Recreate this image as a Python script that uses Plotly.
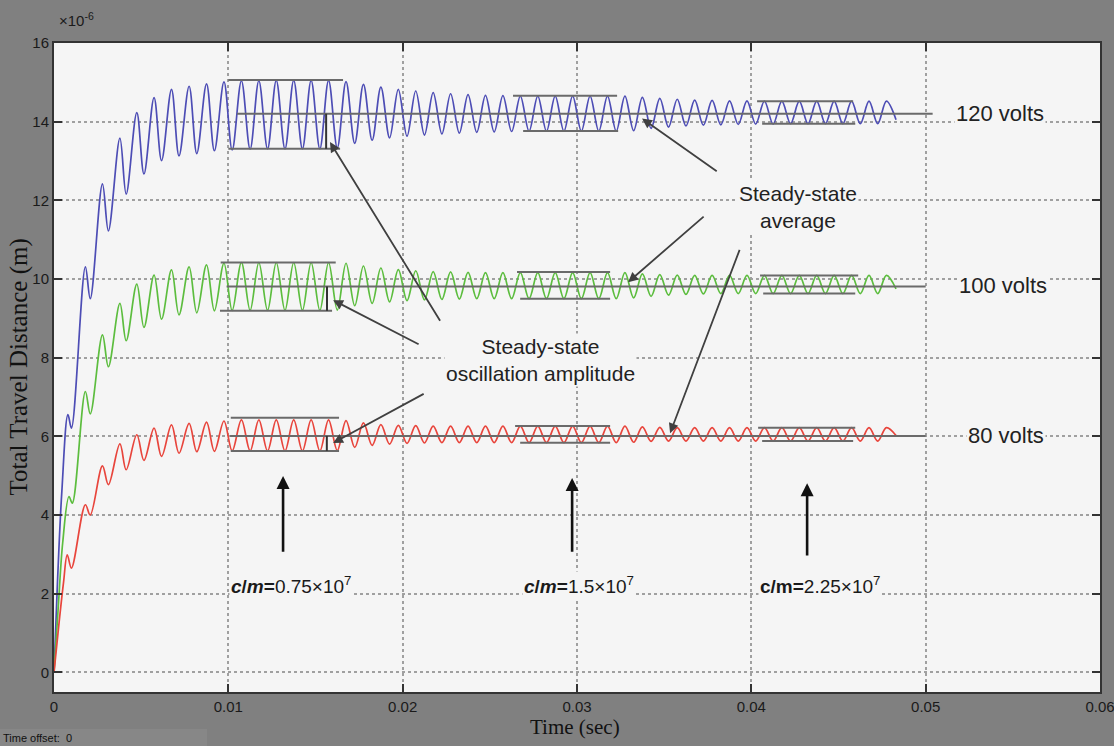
import plotly.graph_objects as go

# ---------------- data (times in ms, distances in 1e-6 m) ----------------
# shared times of the peaks / troughs of the oscillation
T_EXT_MS = [1.80, 2.08, 2.78, 3.12, 3.78, 4.14, 4.75, 5.16, 5.74, 6.17, 6.74, 7.17, 7.75, 8.19,
            8.75, 9.20, 9.75, 10.22,
            10.75, 11.25, 11.75, 12.25, 12.75, 13.25, 13.75, 14.25, 14.75, 15.25, 15.75, 16.25,
            16.75, 17.25, 17.75, 18.25, 18.75, 19.25, 19.75, 20.25, 20.75, 21.25, 21.75, 22.25,
            22.75, 23.25, 23.75, 24.25, 24.75, 25.25, 25.75, 26.25,
            26.75, 27.25, 27.75, 28.25, 28.75, 29.25, 29.75, 30.25, 30.75, 31.25, 31.75, 32.25, 32.75,
            33.25, 33.75, 34.25, 34.75, 35.25, 35.75, 36.25, 36.75, 37.25, 37.75, 38.25, 38.75, 39.25,
            39.75, 40.25, 40.75, 41.25, 41.75, 42.25, 42.75, 43.25, 43.75, 44.25, 44.75, 45.25, 45.75,
            46.25, 46.75, 47.25, 47.75,
            48.30]

# initial rise of each curve
T_START_120 = [0.0, 0.20, 0.45, 0.80, 1.00]
Y_START_120 = [0.0, 2.30, 4.60, 6.55, 6.21]
T_START_100 = [0.0, 0.25, 0.50, 0.86, 1.05]
Y_START_100 = [0.0, 1.70, 3.30, 4.47, 4.30]
T_START_80 = [0.0, 0.30, 0.55, 0.76, 1.00]
Y_START_80 = [0.0, 1.30, 2.30, 2.99, 2.65]

Y_EXT_120 = [10.31, 9.50, 12.42, 11.22, 13.58, 12.16, 14.23, 12.67, 14.61, 13.01, 14.82, 13.13,
             14.90, 13.19, 14.96, 13.26, 15.01, 13.28,
             15.04, 13.30, 15.04, 13.31, 15.05, 13.31, 15.05, 13.31, 15.05, 13.31, 15.05, 13.33,
             15.02, 13.45, 14.95, 13.53, 14.88, 13.59, 14.82, 13.63, 14.78, 13.66, 14.74, 13.69,
             14.71, 13.71, 14.69, 13.73, 14.67, 13.74, 14.66, 13.75,
             14.65, 13.76, 14.65, 13.76, 14.65, 13.76, 14.65, 13.76, 14.65, 13.76, 14.65, 13.76, 14.65,
             13.77, 14.62, 13.83, 14.59, 13.86, 14.57, 13.89, 14.55, 13.91, 14.54, 13.92, 14.53, 13.93,
             14.53, 13.94,
             14.52, 13.94, 14.52, 13.95, 14.52, 13.95, 14.52, 13.95, 14.52, 13.95, 14.52, 13.95,
             14.52, 13.95, 14.52,
             14.05]

Y_EXT_100 = [7.14, 6.57, 8.58, 7.77, 9.38, 8.43, 9.87, 8.77, 10.10, 8.98, 10.23, 9.09,
             10.31, 9.14, 10.36, 9.19, 10.40, 9.20,
             10.42, 9.20, 10.42, 9.20, 10.42, 9.20, 10.42, 9.20, 10.42, 9.20, 10.42, 9.21,
             10.40, 9.32, 10.33, 9.38, 10.28, 9.42, 10.24, 9.45, 10.21, 9.47, 10.19, 9.48,
             10.18, 9.49, 10.17, 9.50, 10.16, 9.50, 10.16, 9.50,
             10.16, 9.50, 10.16, 9.50, 10.16, 9.50, 10.16, 9.50, 10.16, 9.50, 10.16, 9.50, 10.16,
             9.52, 10.13, 9.56, 10.11, 9.59, 10.10, 9.61, 10.09, 9.62, 10.09, 9.63, 10.09, 9.63,
             10.09, 9.63,
             10.09, 9.63, 10.09, 9.63, 10.09, 9.63, 10.09, 9.63, 10.09, 9.63, 10.09, 9.63,
             10.09, 9.63, 10.09,
             9.75]

Y_EXT_80 = [4.26, 4.00, 5.25, 4.77, 5.81, 5.15, 6.04, 5.39, 6.21, 5.49, 6.29, 5.57,
            6.33, 5.61, 6.36, 5.62, 6.39, 5.63,
            6.42, 5.63, 6.42, 5.63, 6.42, 5.63, 6.42, 5.63, 6.42, 5.63, 6.42, 5.64,
            6.40, 5.72, 6.34, 5.77, 6.30, 5.80, 6.28, 5.82, 6.27, 5.83, 6.26, 5.84,
            6.26, 5.84, 6.26, 5.84, 6.26, 5.84, 6.26, 5.84,
            6.26, 5.84, 6.26, 5.84, 6.26, 5.84, 6.26, 5.84, 6.26, 5.84, 6.26, 5.84, 6.26,
            5.85, 6.24, 5.87, 6.23, 5.88, 6.22, 5.88, 6.22, 5.88, 6.22, 5.88, 6.22, 5.88,
            6.22, 5.88,
            6.22, 5.88, 6.22, 5.88, 6.22, 5.88, 6.22, 5.88, 6.22, 5.88, 6.22, 5.88,
            6.22, 5.88, 6.22,
            6.02]

SERIES_NAMES = ["120 volts", "100 volts", "80 volts"]
SERIES_COLORS = ["#4d4db5", "#5cbd3e", "#e8453c"]

# steady-state average lines: value, start (s), end (s)
MEAN_VALS = [14.20, 9.81, 6.01]
MEAN_T0 = [0.0105, 0.0099, 0.0101]
MEAN_T1 = [0.0504, 0.0500, 0.0500]

# amplitude boxes: [box1, box2, box3] per series
BOX_TOP = [[15.06, 14.66, 14.52], [10.42, 10.18, 10.09], [6.47, 6.26, 6.22]]
BOX_BOT = [[13.31, 13.76, 13.95], [9.19, 9.50, 9.63], [5.63, 5.84, 5.88]]
BOX_TOP_T0 = [[0.0100, 0.02633, 0.04033], [0.00956, 0.02656, 0.04050], [0.01014, 0.02645, 0.04039]]
BOX_TOP_T1 = [[0.01658, 0.03230, 0.04584], [0.01616, 0.03190, 0.04613], [0.01635, 0.03190, 0.04596]]
BOX_BOT_T0 = [[0.0100, 0.02691, 0.04062], [0.00952, 0.02674, 0.04068], [0.01014, 0.02674, 0.04062]]
BOX_BOT_T1 = [[0.01641, 0.03236, 0.04596], [0.01595, 0.03190, 0.04596], [0.01635, 0.03190, 0.04584]]
MARKER_T = [0.01561, 0.01566, 0.01565]

X_TICKS = [0, 0.01, 0.02, 0.03, 0.04, 0.05, 0.06]
X_TICK_TEXT = ["0", "0.01", "0.02", "0.03", "0.04", "0.05", "0.06"]
Y_TICKS = [0, 2, 4, 6, 8, 10, 12, 14, 16]

CM_LABELS = ["<b><i>c</i>/<i>m</i>=</b>0.75×10<sup>7</sup>",
             "<b><i>c</i>/<i>m</i>=</b>1.5×10<sup>7</sup>",
             "<b>c/m=</b>2.25×10<sup>7</sup>"]
CM_T = [0.01365, 0.03012, 0.04395]

# ---------------- figure ----------------
fig = go.Figure()
series = [
    (T_START_120, Y_START_120, Y_EXT_120),
    (T_START_100, Y_START_100, Y_EXT_100),
    (T_START_80, Y_START_80, Y_EXT_80),
]
for (ts, ys, ye), name, col in zip(series, SERIES_NAMES, SERIES_COLORS):
    t_all = [t / 1000.0 for t in ts + T_EXT_MS]
    fig.add_trace(go.Scatter(x=t_all, y=ys + ye, mode="lines", name=name,
                             line=dict(color=col, width=1.7, shape="spline", smoothing=1.0),
                             showlegend=False, hoverinfo="skip"))

LINE_COL = "#6a6a6a"
shapes = []
for i in range(3):
    shapes.append(dict(type="line", xref="x", yref="y", x0=MEAN_T0[i], x1=MEAN_T1[i],
                       y0=MEAN_VALS[i], y1=MEAN_VALS[i], line=dict(color=LINE_COL, width=2)))
    for j in range(3):
        shapes.append(dict(type="line", xref="x", yref="y", x0=BOX_TOP_T0[i][j], x1=BOX_TOP_T1[i][j],
                           y0=BOX_TOP[i][j], y1=BOX_TOP[i][j], line=dict(color=LINE_COL, width=2)))
        shapes.append(dict(type="line", xref="x", yref="y", x0=BOX_BOT_T0[i][j], x1=BOX_BOT_T1[i][j],
                           y0=BOX_BOT[i][j], y1=BOX_BOT[i][j], line=dict(color=LINE_COL, width=2)))
    shapes.append(dict(type="line", xref="x", yref="y", x0=MARKER_T[i], x1=MARKER_T[i],
                       y0=MEAN_VALS[i], y1=BOX_BOT[i][0], line=dict(color="#333333", width=2)))

# "Time offset" box at bottom left
shapes.append(dict(type="rect", xref="paper", yref="paper", x0=-54 / 1046, x1=153 / 1046,
                   y0=-54 / 649, y1=-37 / 649, fillcolor="#878787", line=dict(width=0), layer="below"))

TXT_FONT = "Liberation Sans, Arial, sans-serif"
anns = []
# series labels
for name, val, tx in zip(SERIES_NAMES, MEAN_VALS, [0.05424, 0.05445, 0.05459]):
    anns.append(dict(x=tx, y=val + 0.02, xref="x", yref="y", text=name, showarrow=False,
                     font=dict(family=TXT_FONT, size=22, color="#222222"), bgcolor="#f5f5f5"))

anns.append(dict(x=0.04269, y=11.82, xref="x", yref="y", text="Steady-state<br>average",
                 showarrow=False, font=dict(family=TXT_FONT, size=21, color="#222222"),
                 bgcolor="#f5f5f5"))
anns.append(dict(x=0.02788, y=7.94, xref="x", yref="y",
                 text="Steady-state<br>oscillation amplitude",
                 showarrow=False, font=dict(family=TXT_FONT, size=21, color="#222222"),
                 bgcolor="#f5f5f5"))

# arrows: (tail t, tail v, head t, head v)
ARROWS_GRAY = [
    (0.03810, 12.71, 0.03373, 14.08),
    (0.03735, 11.62, 0.03293, 9.92),
    (0.03936, 10.78, 0.03534, 6.08),
    (0.02220, 8.90, 0.01583, 13.48),
    (0.02100, 8.32, 0.01601, 9.46),
    (0.02129, 7.10, 0.01601, 5.83),
]
for ta, va, th, vh in ARROWS_GRAY:
    anns.append(dict(x=th, y=vh, ax=ta, ay=va, xref="x", yref="y", axref="x", ayref="y",
                     text="", showarrow=True, arrowhead=2, arrowsize=1.1, arrowwidth=1.8,
                     arrowcolor="#404040"))

ARROWS_UP = [(0.01314, 3.03, 4.99), (0.02972, 3.03, 4.94), (0.04320, 2.93, 4.81)]
for t, v0, v1 in ARROWS_UP:
    anns.append(dict(x=t, y=v1, ax=t, ay=v0, xref="x", yref="y", axref="x", ayref="y",
                     text="", showarrow=True, arrowhead=2, arrowsize=1.0, arrowwidth=2.6,
                     arrowcolor="#111111"))

for lab, t in zip(CM_LABELS, CM_T):
    anns.append(dict(x=t, y=2.22, xref="x", yref="y", text=lab, showarrow=False,
                     font=dict(family=TXT_FONT, size=19, color="#1a1a1a"), bgcolor="#f5f5f5"))

# axis titles / exponent / time offset
anns.append(dict(x=-36 / 1046, y=0.50, xref="paper", yref="paper", xanchor="center",
                 yanchor="middle", text="Total Travel Distance (m)",
                 textangle=-90, showarrow=False,
                 font=dict(family="Liberation Serif, Times New Roman, serif", size=25, color="#111111")))
anns.append(dict(x=521 / 1046, y=-35 / 649, xref="paper", yref="paper", xanchor="center",
                 yanchor="middle", text="Time (sec)",
                 showarrow=False, font=dict(family="Liberation Serif, Times New Roman, serif",
                                            size=21, color="#111111")))
anns.append(dict(x=3 / 1046, y=1.0 + 12 / 649, xref="paper", yref="paper", xanchor="left",
                 yanchor="bottom", text="×10<sup>-6</sup>", showarrow=False,
                 font=dict(family=TXT_FONT, size=15, color="#1a1a1a")))
anns.append(dict(x=-53 / 1046, y=-45.5 / 649, xref="paper", yref="paper", xanchor="left",
                 yanchor="middle", text="Time offset:  0", showarrow=False,
                 font=dict(family=TXT_FONT, size=11, color="#111111")))

TICK_FONT = dict(family=TXT_FONT, size=15, color="#1a1a1a")
fig.update_layout(
    width=1114, height=746,
    margin=dict(l=54, r=14, t=43, b=54, autoexpand=False),
    paper_bgcolor="#808080", plot_bgcolor="#f5f5f5",
    shapes=shapes, annotations=anns,
    xaxis=dict(range=[0, 0.06], tickvals=X_TICKS, ticktext=X_TICK_TEXT, ticks="inside",
               ticklen=8, tickwidth=2, tickcolor="#333333", showline=True, linecolor="#333333",
               linewidth=2, mirror="ticks", showgrid=True, gridcolor="#a0a0a0", griddash="dot",
               gridwidth=1.5, zeroline=False, tickfont=TICK_FONT, ticklabeloverflow="allow",
               automargin=False),
    yaxis=dict(range=[-0.5, 16], tickvals=Y_TICKS, ticks="inside", ticklen=8, tickwidth=2,
               tickcolor="#333333", showline=True, linecolor="#333333", linewidth=2,
               mirror="ticks", showgrid=True, gridcolor="#a0a0a0", griddash="dot", gridwidth=1.5,
               zeroline=False, tickfont=TICK_FONT, ticklabeloverflow="allow", automargin=False),
)

fig.write_html("out.html")
